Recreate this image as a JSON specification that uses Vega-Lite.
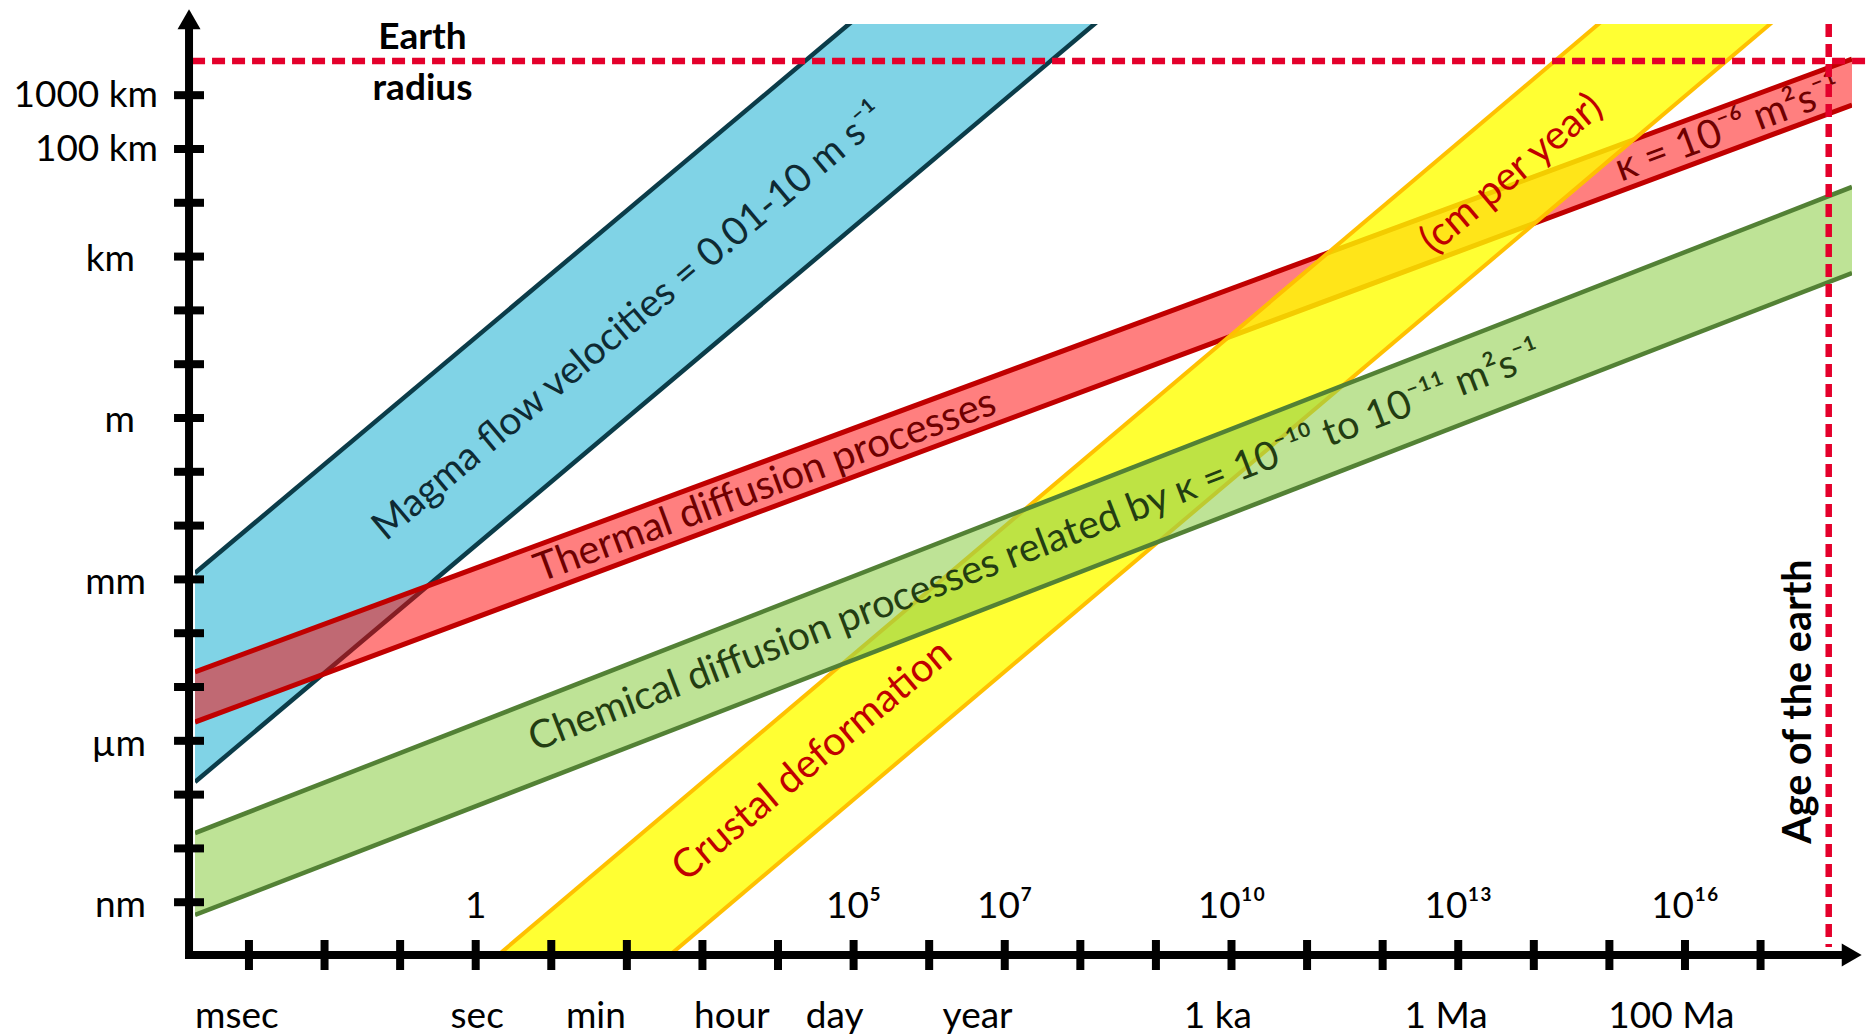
{
  "$schema": "https://vega.github.io/schema/vega-lite/v6.json",
  "width": 1657,
  "height": 931,
  "autosize": {"type": "none"},
  "padding": {"left": 195, "top": 24, "right": 16, "bottom": 81},
  "background": "#ffffff",
  "config": {"view": {"stroke": null}, "font": "Lato"},
  "datasets": {
    "bands": [
      {"band": "magma", "u": -3.714, "hi": -2.881, "lo": -6.766},
      {"band": "magma", "u": 18.21, "hi": 22.97, "lo": 19.19},
      {"band": "thermal", "u": -3.714, "hi": -4.721, "lo": -5.651},
      {"band": "thermal", "u": 18.21, "hi": 6.673, "lo": 5.818},
      {"band": "crustal", "u": -3.714, "hi": -14.75, "lo": -17.45},
      {"band": "crustal", "u": 18.21, "hi": 11.31, "lo": 8.61},
      {"band": "chemical", "u": -3.714, "hi": -7.714, "lo": -9.238},
      {"band": "chemical", "u": 18.21, "hi": 4.294, "lo": 2.695}
    ],
    "xticks": [
      {"u": -3}, {"u": -2}, {"u": -1}, {"u": 0}, {"u": 1}, {"u": 2}, {"u": 3}, {"u": 4}, {"u": 5}, {"u": 6}, {"u": 7},
      {"u": 8}, {"u": 9}, {"u": 10}, {"u": 11}, {"u": 12}, {"u": 13}, {"u": 14}, {"u": 15}, {"u": 16}, {"u": 17}
    ],
    "yticks": [
      {"v": -9}, {"v": -8}, {"v": -7}, {"v": -6}, {"v": -5}, {"v": -4}, {"v": -3}, {"v": -2},
      {"v": -1}, {"v": 0}, {"v": 1}, {"v": 2}, {"v": 3}, {"v": 4}, {"v": 5}, {"v": 6}
    ],
    "decades": [
      {"u": 0, "text": "1"},
      {"u": 5, "text": "10⁵"},
      {"u": 7, "text": "10⁷"},
      {"u": 10, "text": "10¹⁰"},
      {"u": 13, "text": "10¹³"},
      {"u": 16, "text": "10¹⁶"}
    ],
    "timeNames": [
      {"u": -3.16, "text": "msec"},
      {"u": 0.02, "text": "sec"},
      {"u": 1.59, "text": "min"},
      {"u": 3.39, "text": "hour"},
      {"u": 4.75, "text": "day"},
      {"u": 6.64, "text": "year"},
      {"u": 9.82, "text": "1 ka"},
      {"u": 12.84, "text": "1 Ma"},
      {"u": 15.82, "text": "100 Ma"}
    ],
    "lengthNames": [
      {"v": 6, "text": "1000 km", "group": "a"},
      {"v": 5, "text": "100 km", "group": "a"},
      {"v": 3, "text": "km", "group": "c"},
      {"v": 0, "text": "m", "group": "c"},
      {"v": -3, "text": "mm", "group": "b"},
      {"v": -6, "text": "µm", "group": "b"},
      {"v": -9, "text": "nm", "group": "b"}
    ]
  },
  "layer": [
    {
      "data": {"name": "bands"},
      "transform": [{"filter": "datum.band === 'magma'"}],
      "layer": [
        {
          "mark": {"type": "area", "clip": true, "color": "#80d3e6", "fillOpacity": 1},
          "encoding": {
            "x": {"field": "u", "type": "quantitative", "scale": {"domain": [-3.714, 18.21], "nice": false, "zero": false}, "axis": null},
            "y": {"field": "hi", "type": "quantitative", "scale": {"domain": [-9.981, 7.323], "nice": false, "zero": false}, "axis": null},
            "y2": {"field": "lo"}
          }
        },
        {
          "transform": [{"fold": ["hi", "lo"], "as": ["edge", "val"]}],
          "mark": {"type": "line", "clip": true, "color": "#0b3c49", "strokeWidth": 4.5},
          "encoding": {
            "x": {"field": "u", "type": "quantitative", "scale": {"domain": [-3.714, 18.21], "nice": false, "zero": false}, "axis": null},
            "y": {"field": "val", "type": "quantitative", "scale": {"domain": [-9.981, 7.323], "nice": false, "zero": false}, "axis": null},
            "detail": {"field": "edge"}
          }
        }
      ]
    },
    {
      "data": {"name": "bands"},
      "transform": [{"filter": "datum.band === 'thermal'"}],
      "layer": [
        {
          "mark": {"type": "area", "clip": true, "color": "#ff0000", "fillOpacity": 0.5},
          "encoding": {
            "x": {"field": "u", "type": "quantitative", "scale": {"domain": [-3.714, 18.21], "nice": false, "zero": false}, "axis": null},
            "y": {"field": "hi", "type": "quantitative", "scale": {"domain": [-9.981, 7.323], "nice": false, "zero": false}, "axis": null},
            "y2": {"field": "lo"}
          }
        },
        {
          "transform": [{"fold": ["hi", "lo"], "as": ["edge", "val"]}],
          "mark": {"type": "line", "clip": true, "color": "#c00000", "strokeWidth": 5},
          "encoding": {
            "x": {"field": "u", "type": "quantitative", "scale": {"domain": [-3.714, 18.21], "nice": false, "zero": false}, "axis": null},
            "y": {"field": "val", "type": "quantitative", "scale": {"domain": [-9.981, 7.323], "nice": false, "zero": false}, "axis": null},
            "detail": {"field": "edge"}
          }
        }
      ]
    },
    {
      "data": {"name": "bands"},
      "transform": [{"filter": "datum.band === 'crustal'"}],
      "layer": [
        {
          "mark": {"type": "area", "clip": true, "color": "#ffff00", "fillOpacity": 0.8},
          "encoding": {
            "x": {"field": "u", "type": "quantitative", "scale": {"domain": [-3.714, 18.21], "nice": false, "zero": false}, "axis": null},
            "y": {"field": "hi", "type": "quantitative", "scale": {"domain": [-9.981, 7.323], "nice": false, "zero": false}, "axis": null},
            "y2": {"field": "lo"}
          }
        },
        {
          "transform": [{"fold": ["hi", "lo"], "as": ["edge", "val"]}],
          "mark": {"type": "line", "clip": true, "color": "#ffc000", "strokeWidth": 4},
          "encoding": {
            "x": {"field": "u", "type": "quantitative", "scale": {"domain": [-3.714, 18.21], "nice": false, "zero": false}, "axis": null},
            "y": {"field": "val", "type": "quantitative", "scale": {"domain": [-9.981, 7.323], "nice": false, "zero": false}, "axis": null},
            "detail": {"field": "edge"}
          }
        }
      ]
    },
    {
      "data": {"name": "bands"},
      "transform": [{"filter": "datum.band === 'chemical'"}],
      "layer": [
        {
          "mark": {"type": "area", "clip": true, "color": "#92d050", "fillOpacity": 0.6},
          "encoding": {
            "x": {"field": "u", "type": "quantitative", "scale": {"domain": [-3.714, 18.21], "nice": false, "zero": false}, "axis": null},
            "y": {"field": "hi", "type": "quantitative", "scale": {"domain": [-9.981, 7.323], "nice": false, "zero": false}, "axis": null},
            "y2": {"field": "lo"}
          }
        },
        {
          "transform": [{"fold": ["hi", "lo"], "as": ["edge", "val"]}],
          "mark": {"type": "line", "clip": true, "color": "#538135", "strokeWidth": 4.5},
          "encoding": {
            "x": {"field": "u", "type": "quantitative", "scale": {"domain": [-3.714, 18.21], "nice": false, "zero": false}, "axis": null},
            "y": {"field": "val", "type": "quantitative", "scale": {"domain": [-9.981, 7.323], "nice": false, "zero": false}, "axis": null},
            "detail": {"field": "edge"}
          }
        }
      ]
    },
    {
      "data": {"values": [{"text": "Magma flow velocities = 0.01-10 m s⁻¹", "u": 2.134, "v": 1.617}]},
      "mark": {"type": "text", "angle": -40, "align": "center", "baseline": "alphabetic", "font": "Lato", "fontSize": 39, "color": "#0e2a33"},
      "encoding": {
        "x": {"field": "u", "type": "quantitative", "scale": {"domain": [-3.714, 18.21], "nice": false, "zero": false}, "axis": null},
        "y": {"field": "v", "type": "quantitative", "scale": {"domain": [-9.981, 7.323], "nice": false, "zero": false}, "axis": null},
        "text": {"field": "text"}
      }
    },
    {
      "data": {"values": [{"text": "Thermal diffusion processes", "u": 3.887, "v": -1.478}]},
      "mark": {"type": "text", "angle": -20.3, "align": "center", "baseline": "alphabetic", "font": "Lato", "fontSize": 40, "color": "#700000"},
      "encoding": {
        "x": {"field": "u", "type": "quantitative", "scale": {"domain": [-3.714, 18.21], "nice": false, "zero": false}, "axis": null},
        "y": {"field": "v", "type": "quantitative", "scale": {"domain": [-9.981, 7.323], "nice": false, "zero": false}, "axis": null},
        "text": {"field": "text"}
      }
    },
    {
      "data": {"values": [{"text": "κ = 10⁻⁶ m²s⁻¹", "u": 16.63, "v": 5.158}]},
      "mark": {"type": "text", "angle": -20.3, "align": "center", "baseline": "alphabetic", "font": "Lato", "fontSize": 40, "color": "#700000"},
      "encoding": {
        "x": {"field": "u", "type": "quantitative", "scale": {"domain": [-3.714, 18.21], "nice": false, "zero": false}, "axis": null},
        "y": {"field": "v", "type": "quantitative", "scale": {"domain": [-9.981, 7.323], "nice": false, "zero": false}, "axis": null},
        "text": {"field": "text"}
      }
    },
    {
      "data": {"values": [{"text": "Chemical diffusion processes related by κ = 10⁻¹⁰ to 10⁻¹¹  m²s⁻¹", "u": 7.46, "v": -2.602}]},
      "mark": {"type": "text", "angle": -21, "align": "center", "baseline": "alphabetic", "font": "Lato", "fontSize": 39.5, "color": "#233d12"},
      "encoding": {
        "x": {"field": "u", "type": "quantitative", "scale": {"domain": [-3.714, 18.21], "nice": false, "zero": false}, "axis": null},
        "y": {"field": "v", "type": "quantitative", "scale": {"domain": [-9.981, 7.323], "nice": false, "zero": false}, "axis": null},
        "text": {"field": "text"}
      }
    },
    {
      "data": {"values": [{"text": "Crustal deformation", "u": 4.556, "v": -6.543}]},
      "mark": {"type": "text", "angle": -40, "align": "center", "baseline": "alphabetic", "font": "Lato", "fontSize": 40, "color": "#c00000"},
      "encoding": {
        "x": {"field": "u", "type": "quantitative", "scale": {"domain": [-3.714, 18.21], "nice": false, "zero": false}, "axis": null},
        "y": {"field": "v", "type": "quantitative", "scale": {"domain": [-9.981, 7.323], "nice": false, "zero": false}, "axis": null},
        "text": {"field": "text"}
      }
    },
    {
      "data": {"values": [{"text": "(cm per year)", "u": 13.81, "v": 4.364}]},
      "mark": {"type": "text", "angle": -40, "align": "center", "baseline": "alphabetic", "font": "Lato", "fontSize": 40, "color": "#c00000"},
      "encoding": {
        "x": {"field": "u", "type": "quantitative", "scale": {"domain": [-3.714, 18.21], "nice": false, "zero": false}, "axis": null},
        "y": {"field": "v", "type": "quantitative", "scale": {"domain": [-9.981, 7.323], "nice": false, "zero": false}, "axis": null},
        "text": {"field": "text"}
      }
    },
    {
      "data": {"values": [{"text": "Earth\nradius", "u": -0.704, "v": 6.859}]},
      "mark": {"type": "text", "align": "center", "baseline": "alphabetic", "lineBreak": "\n", "lineHeight": 51, "font": "Lato", "fontSize": 37, "fontWeight": "bold", "color": "#000000"},
      "encoding": {
        "x": {"field": "u", "type": "quantitative", "scale": {"domain": [-3.714, 18.21], "nice": false, "zero": false}, "axis": null},
        "y": {"field": "v", "type": "quantitative", "scale": {"domain": [-9.981, 7.323], "nice": false, "zero": false}, "axis": null},
        "text": {"field": "text"}
      }
    },
    {
      "data": {"values": [{"text": "Age of the earth", "u": 17.664, "v": -5.27}]},
      "mark": {"type": "text", "angle": -90, "align": "center", "baseline": "alphabetic", "font": "Lato", "fontSize": 39.5, "fontWeight": "bold", "color": "#000000"},
      "encoding": {
        "x": {"field": "u", "type": "quantitative", "scale": {"domain": [-3.714, 18.21], "nice": false, "zero": false}, "axis": null},
        "y": {"field": "v", "type": "quantitative", "scale": {"domain": [-9.981, 7.323], "nice": false, "zero": false}, "axis": null},
        "text": {"field": "text"}
      }
    },
    {
      "data": {"name": "decades"},
      "mark": {"type": "text", "align": "center", "baseline": "alphabetic", "font": "Lato", "fontSize": 37, "color": "#000000"},
      "encoding": {
        "x": {"field": "u", "type": "quantitative", "scale": {"domain": [-3.714, 18.21], "nice": false, "zero": false}, "axis": null},
        "y": {"datum": -9.29, "type": "quantitative", "scale": {"domain": [-9.981, 7.323], "nice": false, "zero": false}, "axis": null},
        "text": {"field": "text"}
      }
    },
    {
      "data": {"name": "timeNames"},
      "mark": {"type": "text", "align": "center", "baseline": "alphabetic", "font": "Lato", "fontSize": 37, "color": "#000000"},
      "encoding": {
        "x": {"field": "u", "type": "quantitative", "scale": {"domain": [-3.714, 18.21], "nice": false, "zero": false}, "axis": null},
        "y": {"datum": -11.338, "type": "quantitative", "scale": {"domain": [-9.981, 7.323], "nice": false, "zero": false}, "axis": null},
        "text": {"field": "text"}
      }
    },
    {
      "data": {"name": "lengthNames"},
      "transform": [{"filter": "datum.group === 'a'"}],
      "mark": {"type": "text", "align": "right", "baseline": "middle", "dx": -31, "dy": 1, "font": "Lato", "fontSize": 37, "color": "#000000"},
      "encoding": {
        "x": {"datum": -3.793, "type": "quantitative", "scale": {"domain": [-3.714, 18.21], "nice": false, "zero": false}, "axis": null},
        "y": {"field": "v", "type": "quantitative", "scale": {"domain": [-9.981, 7.323], "nice": false, "zero": false}, "axis": null},
        "text": {"field": "text"}
      }
    },
    {
      "data": {"name": "lengthNames"},
      "transform": [{"filter": "datum.group === 'b'"}],
      "mark": {"type": "text", "align": "right", "baseline": "middle", "dx": -43, "dy": 4, "font": "Lato", "fontSize": 37, "color": "#000000"},
      "encoding": {
        "x": {"datum": -3.793, "type": "quantitative", "scale": {"domain": [-3.714, 18.21], "nice": false, "zero": false}, "axis": null},
        "y": {"field": "v", "type": "quantitative", "scale": {"domain": [-9.981, 7.323], "nice": false, "zero": false}, "axis": null},
        "text": {"field": "text"}
      }
    },
    {
      "data": {"name": "lengthNames"},
      "transform": [{"filter": "datum.group === 'c'"}],
      "mark": {"type": "text", "align": "right", "baseline": "middle", "dx": -54, "dy": 3, "font": "Lato", "fontSize": 37, "color": "#000000"},
      "encoding": {
        "x": {"datum": -3.793, "type": "quantitative", "scale": {"domain": [-3.714, 18.21], "nice": false, "zero": false}, "axis": null},
        "y": {"field": "v", "type": "quantitative", "scale": {"domain": [-9.981, 7.323], "nice": false, "zero": false}, "axis": null},
        "text": {"field": "text"}
      }
    },
    {
      "data": {"values": [{"u1": -3.753, "u2": 18.42, "v": 6.636}]},
      "mark": {"type": "rule", "color": "#e4002b", "strokeWidth": 6.5, "strokeDash": [13, 7]},
      "encoding": {
        "x": {"field": "u1", "type": "quantitative", "scale": {"domain": [-3.714, 18.21], "nice": false, "zero": false}, "axis": null},
        "x2": {"field": "u2"},
        "y": {"field": "v", "type": "quantitative", "scale": {"domain": [-9.981, 7.323], "nice": false, "zero": false}, "axis": null}
      }
    },
    {
      "data": {"values": [{"u": 17.902, "v1": -9.833, "v2": 7.323}]},
      "mark": {"type": "rule", "color": "#e4002b", "strokeWidth": 6.5, "strokeDash": [13, 7]},
      "encoding": {
        "x": {"field": "u", "type": "quantitative", "scale": {"domain": [-3.714, 18.21], "nice": false, "zero": false}, "axis": null},
        "y": {"field": "v2", "type": "quantitative", "scale": {"domain": [-9.981, 7.323], "nice": false, "zero": false}, "axis": null},
        "y2": {"field": "v1"}
      }
    },
    {
      "data": {"values": [{"u": -3.793, "v1": -10.056, "v2": 7.29}]},
      "mark": {"type": "rule", "color": "#000000", "strokeWidth": 8},
      "encoding": {
        "x": {"field": "u", "type": "quantitative", "scale": {"domain": [-3.714, 18.21], "nice": false, "zero": false}, "axis": null},
        "y": {"field": "v2", "type": "quantitative", "scale": {"domain": [-9.981, 7.323], "nice": false, "zero": false}, "axis": null},
        "y2": {"field": "v1"}
      }
    },
    {
      "data": {"values": [{"u1": -3.846, "u2": 18.12, "v": -9.981}]},
      "mark": {"type": "rule", "color": "#000000", "strokeWidth": 8},
      "encoding": {
        "x": {"field": "u1", "type": "quantitative", "scale": {"domain": [-3.714, 18.21], "nice": false, "zero": false}, "axis": null},
        "x2": {"field": "u2"},
        "y": {"field": "v", "type": "quantitative", "scale": {"domain": [-9.981, 7.323], "nice": false, "zero": false}, "axis": null}
      }
    },
    {
      "data": {"name": "xticks"},
      "mark": {"type": "tick", "orient": "vertical", "color": "#000000", "size": 30, "thickness": 8, "opacity": 1},
      "encoding": {
        "x": {"field": "u", "type": "quantitative", "scale": {"domain": [-3.714, 18.21], "nice": false, "zero": false}, "axis": null},
        "y": {"datum": -9.981, "type": "quantitative", "scale": {"domain": [-9.981, 7.323], "nice": false, "zero": false}, "axis": null}
      }
    },
    {
      "data": {"name": "yticks"},
      "mark": {"type": "tick", "orient": "horizontal", "color": "#000000", "size": 30, "thickness": 8, "opacity": 1},
      "encoding": {
        "x": {"datum": -3.793, "type": "quantitative", "scale": {"domain": [-3.714, 18.21], "nice": false, "zero": false}, "axis": null},
        "y": {"field": "v", "type": "quantitative", "scale": {"domain": [-9.981, 7.323], "nice": false, "zero": false}, "axis": null}
      }
    },
    {
      "data": {"values": [{"u": -3.793, "v": 7.411, "dir": "up"}, {"u": 18.206, "v": -9.981, "dir": "right"}]},
      "mark": {"type": "point", "filled": true, "color": "#000000", "opacity": 1, "size": 529},
      "encoding": {
        "x": {"field": "u", "type": "quantitative", "scale": {"domain": [-3.714, 18.21], "nice": false, "zero": false}, "axis": null},
        "y": {"field": "v", "type": "quantitative", "scale": {"domain": [-9.981, 7.323], "nice": false, "zero": false}, "axis": null},
        "shape": {"field": "dir", "type": "nominal", "scale": {"domain": ["up", "right"], "range": ["triangle-up", "triangle-right"]}, "legend": null}
      }
    }
  ]
}
